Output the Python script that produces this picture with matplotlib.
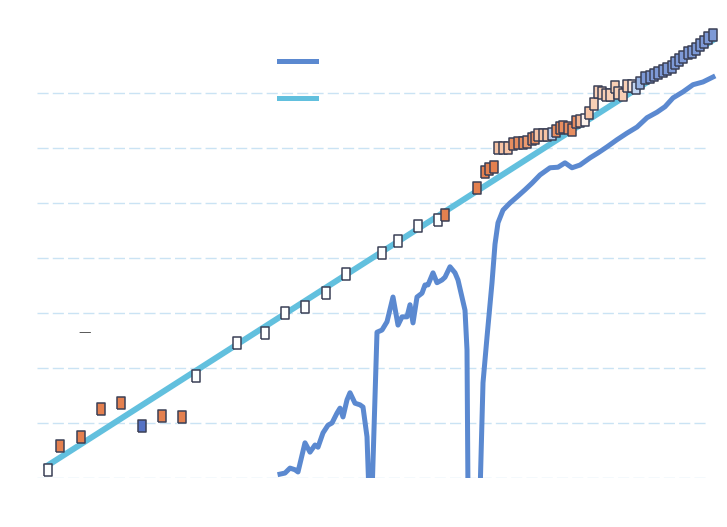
import numpy as np
import matplotlib
matplotlib.use('Agg')
import matplotlib.pyplot as plt
from matplotlib.colors import LinearSegmentedColormap
from matplotlib.lines import Line2D

# trend line (straight fit)
trend_x = [0, 666]
trend_y = [2.2, 79.6]

# observed series (dips below the floor are clipped by the axis)
obs_x = [233, 238, 243, 248, 251, 258, 263, 268, 271, 276, 281, 285, 290, 293, 296,
         300, 303, 308, 313, 316, 320, 322, 325, 330, 335, 340, 346, 351, 355, 360,
         363, 366, 370, 375, 378, 381, 386, 390, 395, 398, 403, 408, 411, 418, 420,
         421, 433, 436, 440, 445, 448, 451, 456, 463, 470, 478, 485, 493, 503, 511,
         518, 525, 533, 543, 551, 560, 570, 580, 590, 600, 610, 618, 626, 636, 646,
         656, 666]
obs_y = [0.7, 0.9, 1.8, 1.5, 1.1, 6.4, 4.7, 6.0, 5.6, 8.2, 9.6, 10.0, 11.8, 12.7, 11.1,
         14.2, 15.5, 13.6, 13.3, 12.9, 7.5, -3, -3, 26.5, 26.9, 28.4, 32.9, 27.8, 29.3, 29.3,
         31.5, 28.2, 32.9, 33.6, 35.1, 35.1, 37.3, 35.5, 36.0, 36.5, 38.4, 37.3, 36.0, 30.5, 23.3,
         -3, -3, 17.3, 25.6, 35.5, 42.5, 46.4, 48.7, 50.0, 51.1, 52.4, 53.6, 55.1, 56.4, 56.5,
         57.3, 56.4, 56.9, 58.2, 59.1, 60.2, 61.5, 62.7, 63.8, 65.5, 66.5, 67.5, 69.1, 70.2, 71.5,
         72.0, 72.9]

# individual points and their deviation score (-1 below .. +1 above)
pt_x = [1, 13, 34, 54, 74, 95, 115, 135, 149, 190, 218, 238, 258, 279, 299, 335, 351,
        371, 391, 398, 430, 438, 442, 447, 451, 456, 461, 466, 471, 476, 480, 485, 488,
        491, 496, 500, 505, 509, 513, 516, 521, 525, 529, 533, 538, 542, 547, 551, 555,
        559, 563, 568, 571, 576, 580, 585, 589, 593, 598, 603, 607, 611, 616, 620, 625,
        628, 632, 636, 641, 645, 649, 653, 657, 661, 666]
pt_y = [1.5, 5.8, 7.5, 12.5, 13.6, 9.5, 11.3, 11.1, 18.5, 24.5, 26.4, 30.0, 31.1, 33.6,
        37.1, 40.9, 43.1, 45.8, 46.9, 47.8, 52.7, 55.6, 56.2, 56.5, 60.0, 60.0, 60.0, 60.7,
        60.9, 60.9, 61.1, 61.6, 61.8, 62.4, 62.4, 62.4, 62.5, 63.1, 63.6, 63.8, 63.6, 63.3,
        64.7, 64.9, 65.1, 66.4, 68.0, 70.2, 70.0, 69.6, 69.6, 71.1, 70.0, 69.6, 71.3, 71.3,
        70.9, 71.8, 72.7, 72.9, 73.3, 73.6, 74.0, 74.4, 74.7, 75.5, 76.0, 76.5, 77.3, 77.5,
        78.0, 78.7, 79.3, 80.0, 80.5]
pt_score = [0, -1, -1, -1, -1, 1, -1, -1, 0, 0, 0, 0, 0, 0, 0, 0, 0, 0, 0, -1,
            -1, -1, -1, -1, -0.5, -0.5, -0.5, -0.9, -0.9, -0.9, -0.8, -0.9, -0.9,
            -0.5, -0.5, -0.5, 0.4, -0.9, -0.9, -0.9, -0.9, -0.9, -0.9, -0.6, -0.1,
            -0.5, -0.4, -0.4, -0.4, -0.4, -0.4, -0.4, -0.4, -0.4, -0.4, -0.2, 0.35,
            0.6, 0.75, 0.75, 0.75, 0.75, 0.75, 0.75, 0.75, 0.75, 0.75, 0.75, 0.75,
            0.75, 0.75, 0.75, 0.75, 0.75, 0.75]

grid_levels = [0, 10, 20, 30, 40, 50, 60, 70]


def make_chart():
    fig = plt.figure(figsize=(7.27, 5.27), dpi=100)
    ax = fig.add_axes([37 / 727, 49 / 527, 683 / 727, 478 / 527])
    ax.set_xlim(-10, 673)
    ax.set_ylim(0, 86.9)
    ax.axis('off')

    # faint dashed guides
    ax.hlines(grid_levels, -10, 660, colors='#cae3f4', linestyles=(0, (8, 3)), lw=1.0, zorder=0)

    ax.plot(obs_x, obs_y, color='#5b89d0', lw=3.6, solid_joinstyle='round', zorder=2)
    ax.plot(trend_x, trend_y, color='#62c0de', lw=4.3, zorder=3)

    cmap = LinearSegmentedColormap.from_list(
        'dev', ['#e4804f', '#f6c3a4', '#ffffff', '#a9c4ec', '#5572c4'])
    rect = [(-0.32, -0.5), (0.32, -0.5), (0.32, 0.5), (-0.32, 0.5), (-0.32, -0.5)]
    ax.scatter(pt_x, pt_y, c=pt_score, cmap=cmap, vmin=-1, vmax=1, marker=rect, s=75,
               edgecolors='#3b4056', linewidths=1.1, zorder=4, clip_on=False)

    ax.text(31, 26.4, '\u2014', color='#555555', fontsize=9, ha='left', va='center', zorder=1)

    handles = [Line2D([], [], color='#5b89d0', lw=3.6),
               Line2D([], [], color='#62c0de', lw=3.6)]
    ax.legend(handles, ['', ''], loc='upper left', bbox_to_anchor=(272 / 727, 1 - 48 / 527),
              bbox_transform=fig.transFigure, frameon=False, handlelength=2.64,
              labelspacing=1.68, borderpad=0, handletextpad=0, fontsize=10)

    fig.savefig('out.png', dpi=100, facecolor='white')


if __name__ == '__main__':
    make_chart()
